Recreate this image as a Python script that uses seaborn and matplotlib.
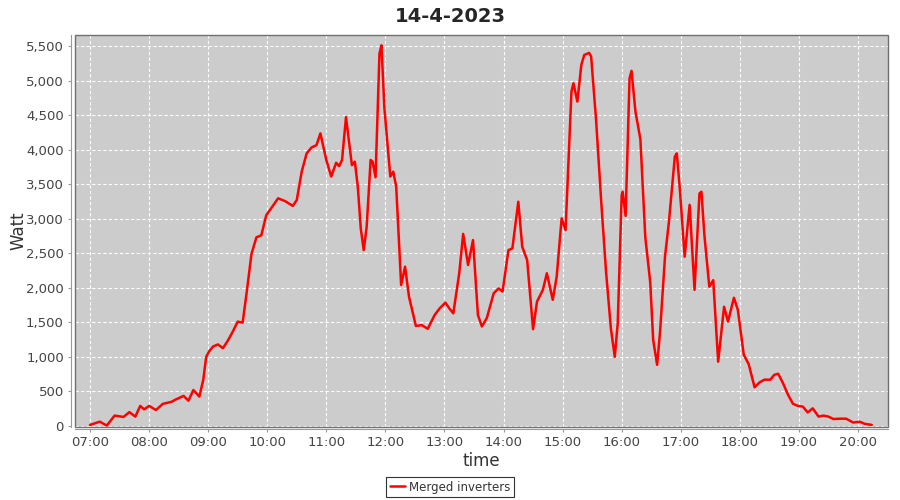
import pandas as pd
import numpy as np
import matplotlib
matplotlib.use("Agg")
import matplotlib.pyplot as plt
import matplotlib.dates as mdates
from matplotlib.ticker import FuncFormatter, MultipleLocator
from matplotlib.patches import Rectangle
import seaborn as sns

# data (time of day, watt)
times = [
    "07:00", "07:10", "07:17", "07:25", "07:34", "07:40", "07:46", "07:51", "07:55", "08:00",
    "08:07", "08:14", "08:23", "08:26", "08:35", "08:40", "08:45", "08:51", "08:55", "08:58",
    "09:01", "09:05", "09:10", "09:15", "09:20", "09:25", "09:30", "09:35", "09:39", "09:44",
    "09:49", "09:54", "09:59", "10:04", "10:11", "10:18", "10:26", "10:30", "10:35", "10:40",
    "10:45", "10:50", "10:54", "11:00", "11:05", "11:10", "11:13", "11:16", "11:20", "11:26",
    "11:29", "11:32", "11:35", "11:38", "11:41", "11:45", "11:47", "11:50", "11:54", "11:56",
    "11:59", "12:05", "12:08", "12:11", "12:16", "12:20", "12:24", "12:31", "12:37", "12:43",
    "12:50", "12:55", "13:01", "13:05", "13:09", "13:15", "13:19", "13:24", "13:29", "13:34",
    "13:38", "13:43", "13:50", "13:55", "13:59", "14:05", "14:09", "14:15", "14:19", "14:24",
    "14:30", "14:34", "14:40", "14:44", "14:50", "14:54", "14:59", "15:03", "15:09", "15:11",
    "15:15", "15:19", "15:22", "15:27", "15:29", "15:34", "15:39", "15:44", "15:49", "15:53",
    "15:56", "16:00", "16:01", "16:04", "16:08", "16:10", "16:14", "16:19", "16:24", "16:29",
    "16:32", "16:36", "16:39", "16:44", "16:48", "16:54", "16:56", "16:59", "17:04", "17:09",
    "17:14", "17:19", "17:21", "17:24", "17:29", "17:33", "17:38", "17:44", "17:48", "17:54",
    "17:58", "18:04", "18:09", "18:15", "18:20", "18:25", "18:31", "18:35", "18:39", "18:44",
    "18:49", "18:54", "18:59", "19:04", "19:09", "19:14", "19:20", "19:25", "19:30", "19:35",
    "19:42", "19:48", "19:55", "20:02", "20:07", "20:14",
]
watt = [
    15, 62, 5, 150, 130, 200, 135, 290, 240, 290,
    230, 320, 350, 375, 435, 365, 520, 425, 665, 1000,
    1080, 1150, 1180, 1125, 1235, 1365, 1510, 1495, 1920, 2490,
    2730, 2760, 3050, 3150, 3295, 3255, 3185, 3270, 3680, 3945,
    4030, 4065, 4235, 3850, 3610, 3810, 3760, 3850, 4470, 3775,
    3825, 3460, 2860, 2545, 2885, 3850, 3825, 3600, 5390, 5510,
    4600, 3610, 3680, 3465, 2040, 2305, 1870, 1447, 1460, 1405,
    1605, 1700, 1785, 1700, 1630, 2210, 2780, 2330, 2690, 1605,
    1440, 1560, 1920, 1990, 1945, 2545, 2570, 3245, 2595, 2400,
    1400, 1800, 1970, 2210, 1825, 2160, 3005, 2835, 4840, 4960,
    4695, 5225, 5370, 5400, 5345, 4430, 3295, 2255, 1415, 1000,
    1485, 3340, 3390, 3040, 5030, 5140, 4550, 4150, 2730, 2080,
    1245, 885, 1365, 2450, 2955, 3900, 3945, 3440, 2450, 3200,
    1970, 3365, 3390, 2765, 2015, 2110, 930, 1725, 1510, 1855,
    1680, 1030, 895, 560, 630, 670, 670, 740, 755, 615,
    450, 320, 290, 280, 195, 255, 135, 150, 135, 100,
    105, 105, 50, 60, 30, 15,
]
day = "2023-04-14"
title = "14-4-2023"
series_name = "Merged inverters"

df = pd.DataFrame({
    "time": pd.to_datetime([f"{day} {t}" for t in times]),
    "Watt": watt,
    "series": series_name,
})

sns.set_style("white")
plt.rcParams['font.family'] = ['DejaVu Sans']

fig = plt.figure(figsize=(9, 5), dpi=100)
ax = fig.add_axes([75 / 900, 1 - 426.5 / 500, 813 / 900, 391.5 / 500])
ax.set_facecolor("#cccccc")

sns.lineplot(data=df, x="time", y="Watt", hue="series", palette=["#ff0000"],
             linewidth=1.8, ax=ax, legend=True)

# axis ranges
t0 = pd.Timestamp(f"{day} 06:44:45")
t1 = pd.Timestamp(f"{day} 20:30:30")
ax.set_xlim(t0, t1)
ax.set_ylim(-8, 5659)

ax.xaxis.set_major_locator(mdates.HourLocator())
ax.xaxis.set_major_formatter(mdates.DateFormatter("%H:%M"))
ax.yaxis.set_major_locator(MultipleLocator(500))
ax.yaxis.set_major_formatter(FuncFormatter(lambda v, p: f"{int(v):,}"))

ax.grid(True, color="white", linestyle=(0, (3, 2)), linewidth=0.8)
ax.tick_params(axis="both", labelsize=9.5, labelcolor="#444444", color="#999999",
               length=2, width=0.8, direction="out", bottom=True, left=True, pad=3)

for side in ["top", "right"]:
    ax.spines[side].set_visible(False)
ax.spines["left"].set_position(("outward", 3))
ax.spines["bottom"].set_position(("outward", 2))
for side in ["left", "bottom"]:
    ax.spines[side].set_color("#999999")
    ax.spines[side].set_linewidth(0.8)
ax.add_patch(Rectangle((0, 0), 1, 1, transform=ax.transAxes, fill=False,
                       edgecolor="#707070", linewidth=1.0, clip_on=False, zorder=5))

ax.set_xlabel("time", fontsize=12, color="#333333")
ax.set_ylabel("Watt", fontsize=12, color="#333333")
ax.xaxis.set_label_coords(0.5, -0.064)
ax.yaxis.set_label_coords(-0.058, 0.5)
fig.suptitle(title, fontsize=14, fontweight="bold", x=0.5, y=0.985)

handles, labels = ax.get_legend_handles_labels()
ax.get_legend().remove()
leg = fig.legend(handles, labels, loc="center", bbox_to_anchor=(0.5, 1 - 487 / 500),
                 frameon=True, fancybox=False, fontsize=8.5, handlelength=1.3,
                 borderpad=0.3, handletextpad=0.3, borderaxespad=0)
leg.get_frame().set_edgecolor("black")
leg.get_frame().set_linewidth(0.8)
for txt in leg.get_texts():
    txt.set_color("#333333")

fig.savefig("out.png", dpi=100)
